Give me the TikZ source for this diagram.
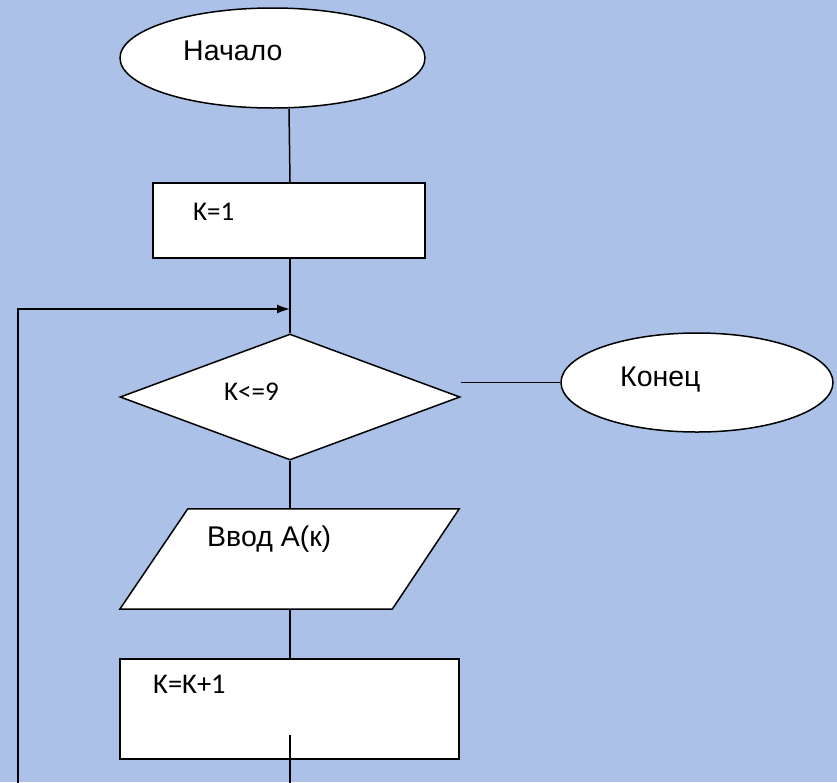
\documentclass[tikz,border=0pt]{standalone}
\usepackage{fontspec}
\setmainfont{Liberation Sans}
\newfontfamily\calib{Carlito}
\usetikzlibrary{shapes.geometric,arrows.meta}
\definecolor{bg}{RGB}{171,193,231}
\begin{document}
\begin{tikzpicture}[x=1pt,y=-1pt,
  box/.style={draw=black, fill=white, line width=1.5pt, inner sep=0pt},
  term/.style={box, ellipse},
  decis/.style={box, diamond},
  conn/.style={draw=black, line width=1.5pt},
  lbl/.style={inner sep=0pt, anchor=base west, font=\fontsize{28.5}{34}\selectfont},
  klbl/.style={inner sep=0pt, anchor=base west, font=\calib\fontsize{27}{32}\selectfont}]
  \fill[bg] (0,0) rectangle (837,782);
  \useasboundingbox (0,0) rectangle (837,782);

  % shapes
  \node[term, minimum width=305pt, minimum height=100pt] (start) at (272.5,58) {};
  \node[box, minimum width=272pt, minimum height=75pt] (k1) at (289,220.5) {};
  \node[decis, minimum width=340pt, minimum height=126pt] (dec) at (290,397) {};
  \node[term, minimum width=272pt, minimum height=99pt] (end) at (697,382.5) {};
  \node[inner sep=0pt, minimum width=339pt, minimum height=100pt] (inp) at (289.5,559) {};
  \draw[box] ([xshift=68pt]inp.north west) -- (inp.north east)
     -- ([xshift=-67pt]inp.south east) -- (inp.south west) -- cycle;
  \node[box, minimum width=339pt, minimum height=100pt] (inc) at (289.5,709) {};

  % loop helper points
  \coordinate (lpin) at (290,735);
  \coordinate (lpout) at (290,790);
  \coordinate (lbot) at (18,790);
  \coordinate (ljoin) at (290,309);

  % connectors
  \draw[conn] (start.south -| k1.north) -- (k1.north -| dec.north);
  \draw[conn] (k1.south -| dec.north) -- (dec.north);
  \draw[conn] (dec.east |- end.west) -- (end.west);
  \draw[conn] (dec.south) -- (dec.south |- inp.north);
  \draw[conn] (dec.south |- inp.south) -- (dec.south |- inc.north);
  \draw[conn] (lpin) -- (lpout);
  \draw[conn, -{Latex[length=13pt,width=9pt]}] (lbot) |- (ljoin);

  % texts
  \node[lbl] (tstart) at (183,60) {Начало};
  \node[klbl] (tk1) at (193,220) {K=1};
  \node[klbl] (tdec) at (224,400) {K<=9};
  \node[lbl] (tend) at (620,386) {Конец};
  \node[lbl] (tinp) at (207,546) {Ввод А(к)};
  \node[klbl, font=\calib\fontsize{28.5}{34}\selectfont] (tinc) at (153,693) {K=K+1};
\end{tikzpicture}
\end{document}
